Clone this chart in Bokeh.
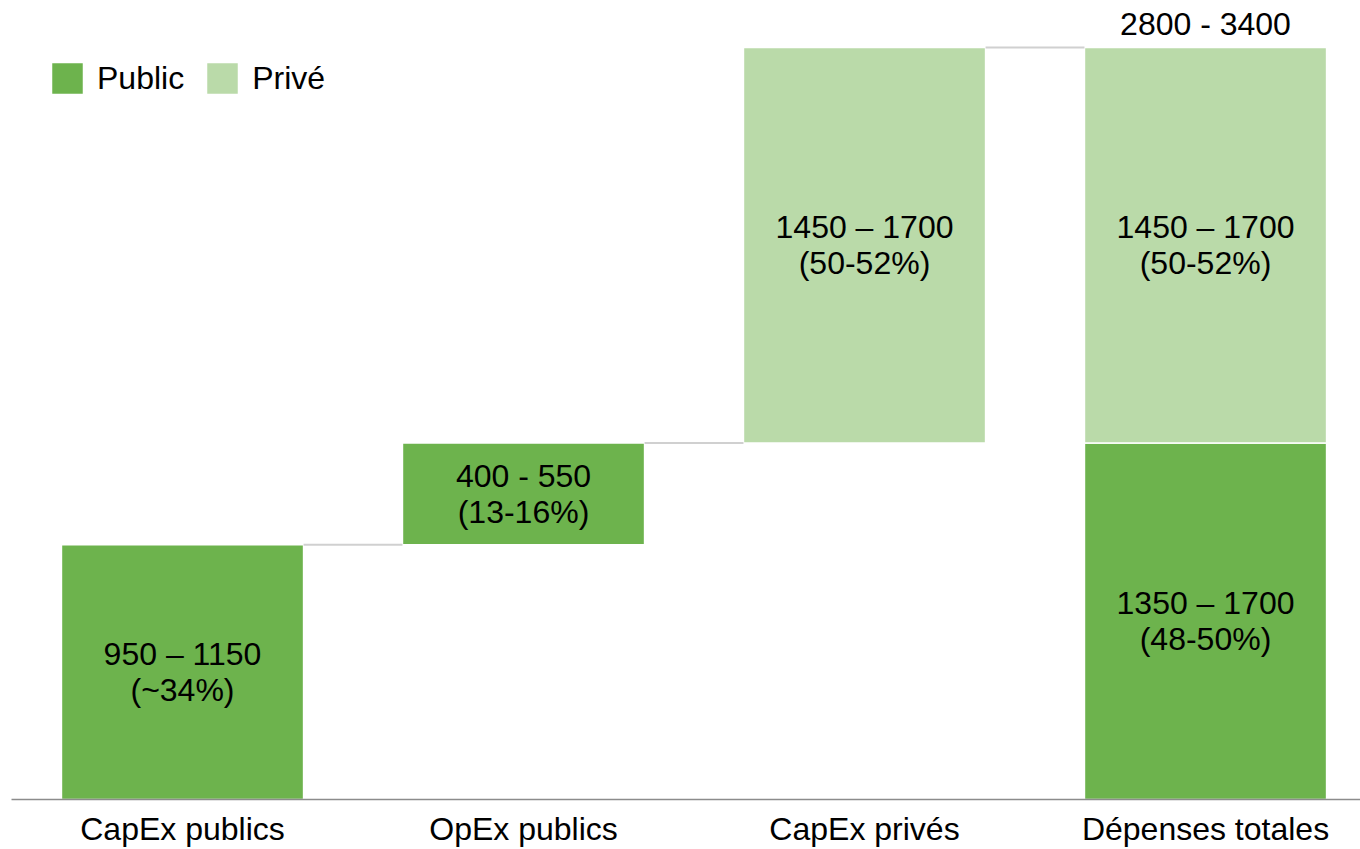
from bokeh.plotting import figure
from bokeh.models import Range1d, FixedTicker, ColumnDataSource, Legend, LegendItem
from bokeh.core.properties import value
from bokeh.embed import file_html
from bokeh.resources import INLINE

categories = ["CapEx publics", "OpEx publics", "CapEx privés", "Dépenses totales"]
step_values = [1050, 420, 1630]
step_types = ["Public", "Public", "Privé"]
step_labels = ["950 – 1150\n(~34%)", "400 - 550\n(13-16%)", "1450 – 1700\n(50-52%)"]
total_labels = {"Public": "1350 – 1700\n(48-50%)", "Privé": "1450 – 1700\n(50-52%)"}
total_range_label = "2800 - 3400"

DARK = "#6db34d"
LIGHT = "#badaa9"
FONT = "Liberation Sans"
FS = "32px"
colors = {"Public": DARK, "Privé": LIGHT}

# waterfall geometry from values
bars = {"Public": dict(x=[], bottom=[], top=[]), "Privé": dict(x=[], bottom=[], top=[])}
lbl = dict(x=[], y=[], text=[])
conn = dict(x0=[], x1=[], y=[])
cum = 0
for i, (v, t, l) in enumerate(zip(step_values, step_types, step_labels)):
    b, tp = cum, cum + v
    bars[t]["x"].append(i); bars[t]["bottom"].append(b); bars[t]["top"].append(tp)
    lbl["x"].append(i); lbl["y"].append((b + tp) / 2); lbl["text"].append(l)
    conn["x0"].append(i + 0.355); conn["x1"].append(i + 1 - 0.355); conn["y"].append(tp)
    cum = tp
total = cum
ti = len(step_values)
pub_total = sum(v for v, t in zip(step_values, step_types) if t == "Public")
for t, b, tp in [("Public", 0, pub_total), ("Privé", pub_total, total)]:
    bars[t]["x"].append(ti); bars[t]["bottom"].append(b); bars[t]["top"].append(tp)
    lbl["x"].append(ti); lbl["y"].append((b + tp) / 2); lbl["text"].append(total_labels[t])

p = figure(width=1360, height=849, output_backend="svg", toolbar_location=None,
           x_range=Range1d(-0.5015, 3.4545), y_range=Range1d(0, 3294),
           min_border_left=11, min_border_right=0, min_border_top=0, min_border_bottom=0)
p.outline_line_color = None
p.grid.visible = False
p.yaxis.visible = False

renderers = {}
for t in ["Public", "Privé"]:
    src = ColumnDataSource(bars[t])
    renderers[t] = p.vbar(x="x", bottom="bottom", top="top", width=0.71, source=src,
                          fill_color=colors[t], line_color="white", line_width=1.5)

p.segment(x0="x0", x1="x1", y0="y", y1="y", source=ColumnDataSource(conn),
          line_color="#d0d0d0", line_width=2)

p.text(x="x", y="y", text="text", source=ColumnDataSource(lbl), text_align="center",
       text_baseline="middle", text_font=value(FONT), text_font_size=FS,
       text_color="black", text_line_height=1.0)
p.text(x=[ti], y=[total], text=[total_range_label], text_align="center",
       text_baseline="bottom", y_offset=-6, text_font=value(FONT),
       text_font_size=FS, text_color="black")

ax = p.xaxis[0]
ax.ticker = FixedTicker(ticks=list(range(len(categories))))
ax.major_label_overrides = {i: c for i, c in enumerate(categories)}
ax.major_tick_line_color = None
ax.minor_tick_line_color = None
ax.major_tick_out = 0
ax.major_label_standoff = 11
ax.axis_line_color = "#8c8c8c"
ax.axis_line_width = 1.5
ax.major_label_text_font = FONT
ax.major_label_text_font_size = FS
ax.major_label_text_color = "black"

legend = Legend(items=[LegendItem(label=t, renderers=[renderers[t]]) for t in ["Public", "Privé"]],
                orientation="horizontal", location=(36, 701), margin=0, padding=0,
                glyph_width=40, glyph_height=40, label_standoff=10, spacing=18,
                label_text_font=FONT, label_text_font_size=FS, label_text_color="black",
                border_line_color=None, background_fill_alpha=0)
p.add_layout(legend)

open("out.html", "w").write(file_html(p, INLINE))
